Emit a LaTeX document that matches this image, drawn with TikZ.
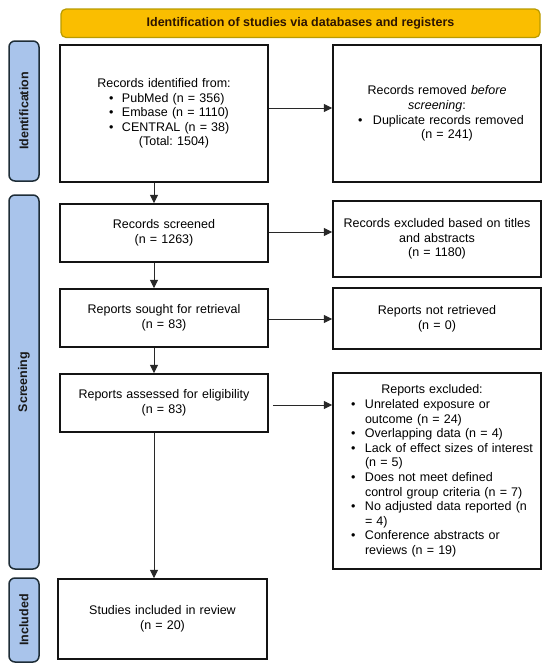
\documentclass[tikz,border=0pt]{standalone}
\usepackage{fontspec}
\setmainfont{Liberation Sans}
\usetikzlibrary{arrows.meta}
\frenchspacing
\definecolor{hdrfill}{RGB}{250,190,0}
\definecolor{hdrdraw}{RGB}{185,155,0}
\definecolor{hdrtext}{RGB}{45,20,0}
\definecolor{barfill}{RGB}{169,196,235}
\definecolor{bardraw}{RGB}{30,45,55}
\definecolor{arrcol}{RGB}{40,40,40}
\newcommand{\pbl}[2]{\makebox[#2][l]{\hspace*{#1}\textbullet}}
\newcommand{\pcl}[2][0pt]{\makebox[\linewidth][c]{\hspace*{#1}#2}}
\begin{document}
\begin{tikzpicture}[x=1pt,y=-1pt,
  txt/.style={font=\fontsize{12.5}{14.6}\selectfont},
  box/.style={txt,draw=black!92,line width=1.5pt,inner sep=0pt,align=left,text width=208pt,minimum width=208pt},
  bar/.style={txt,draw=bardraw,fill=barfill,line width=1.5pt,rounded corners=6pt,inner sep=0pt,minimum height=30pt,text=black!90,font=\fontsize{12.5}{14.6}\selectfont\bfseries},
  arr/.style={draw=arrcol,line width=1pt,-{Triangle[length=8.5pt,width=8pt]}}]
\useasboundingbox (0,0) rectangle (550,670);

% header
\node[txt,draw=hdrdraw,fill=hdrfill,line width=1.2pt,rounded corners=5pt,minimum width=479pt,minimum height=28.5pt,inner sep=0pt,text=hdrtext,font=\fontsize{12.5}{14.6}\selectfont\bfseries] (hdr) at (300.5,23.25) {Identification of studies via databases and registers};

% side bars
\node[bar,rotate=90,minimum width=140pt] (idbar) at (24,111) {Identification};
\node[bar,rotate=90,minimum width=374pt] (scbar) at (24,382) {Screening};
\node[bar,rotate=90,minimum width=84pt] (inbar) at (24,620) {Included};

% left column
\node[box,minimum height=137pt] (id1) at (164,113.5) {\pcl{Records identified from:}\\
\pbl{49pt}{62pt}PubMed (n = 356)\\
\pbl{49pt}{62pt}Embase (n = 1110)\\
\pbl{49pt}{62pt}CENTRAL (n = 38)\\
\pcl[20pt]{(Total: 1504)}};

\node[box,minimum height=58pt] (scr) at (164,233) {\pcl{Records screened}\\ \pcl{(n = 1263)}};
\node[box,minimum height=58pt] (sought) at (164,318) {\pcl{Reports sought for retrieval}\\ \pcl{(n = 83)}};
\node[box,minimum height=58pt] (assess) at (164,403) {\pcl{Reports assessed for eligibility}\\ \pcl{(n = 83)}};
\node[box,text width=209pt,minimum width=209pt,minimum height=80pt] (incl) at (162.5,619) {\pcl{Studies included in review}\\ \pcl{(n = 20)}};

% right column
\node[box,minimum height=137pt] (id2) at (437,113.5) {\pcl{Records removed \textit{before}}\\
\pcl{\textit{screening}:}\\
\pbl{25pt}{40pt}Duplicate records removed\\
\pcl[20pt]{(n = 241)}};
\node[box,minimum height=76pt] (exc1) at (437,239) {\pcl{Records excluded based on titles}\\ \pcl{and abstracts}\\ \pcl{(n = 1180)}};
\node[box,minimum height=61pt] (notret) at (437,318.5) {\pcl{Reports not retrieved}\\ \pcl{(n = 0)}};
\node[box,minimum height=196pt] (exc2) at (437,471) {\pcl[-10pt]{Reports excluded:}\\
\pbl{18pt}{32pt}Unrelated exposure or\\
\hspace*{32pt}outcome (n = 24)\\
\pbl{18pt}{32pt}Overlapping data (n = 4)\\
\pbl{18pt}{32pt}Lack of effect sizes of interest\\
\hspace*{32pt}(n = 5)\\
\pbl{18pt}{32pt}Does not meet defined\\
\hspace*{32pt}control group criteria (n = 7)\\
\pbl{18pt}{32pt}No adjusted data reported (n\\
\hspace*{32pt}= 4)\\
\pbl{18pt}{32pt}Conference abstracts or\\
\hspace*{32pt}reviews (n = 19)};

% connectors
\coordinate (vx) at (154,0);
\draw[arr] (id1.south -| vx) -- (scr.north -| vx);
\draw[arr] (scr.south -| vx) -- (sought.north -| vx);
\draw[arr] (sought.south -| vx) -- (assess.north -| vx);
\draw[arr] (assess.south -| vx) -- (incl.north -| vx);

\draw[arr] ([yshift=5.5pt]id1.east) -- ([yshift=5.5pt]id1.east -| id2.west);
\draw[arr] ([yshift=1pt]scr.east) -- ([yshift=1pt]scr.east -| exc1.west);
\draw[arr] ([yshift=-1pt]sought.east) -- ([yshift=-1pt]sought.east -| notret.west);
\draw[arr] ([xshift=4pt,yshift=-2pt]assess.east) -- ([yshift=-2pt]assess.east -| exc2.west);
\end{tikzpicture}
\end{document}
